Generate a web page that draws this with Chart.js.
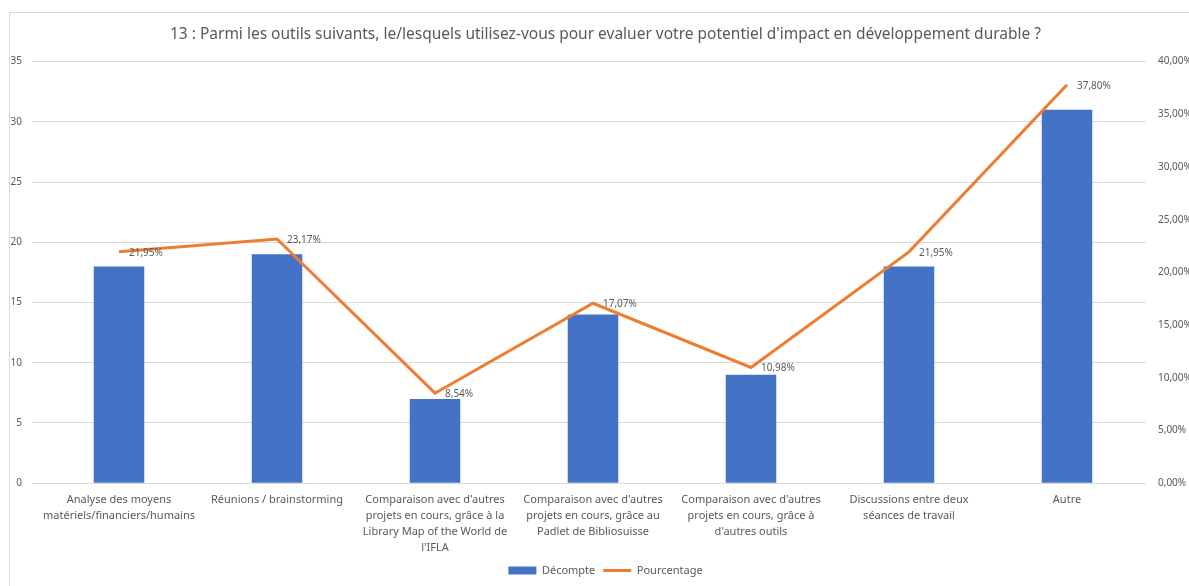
<!DOCTYPE html>
<html>
<head>
<meta charset="utf-8">
<script src="https://cdn.jsdelivr.net/npm/chart.js@4.4.1/dist/chart.umd.min.js"></script>
<style>
  html, body { margin: 0; padding: 0; background: #fff; }
  #frame { position: absolute; left: 9px; top: 12px; width: 1200px; height: 600px; border: 1px solid #d9d9d9; box-sizing: border-box; }
  #wrap { position: absolute; left: 0; top: 0; width: 1189px; height: 586px; }
</style>
</head>
<body>
<div id="frame"></div>
<div id="wrap"><canvas id="c"></canvas></div>
<script>
// données
const categories = [
  ['Analyse des moyens', 'matériels/financiers/humains'],
  ['Réunions / brainstorming'],
  ["Comparaison avec d'autres", 'projets en cours, grâce à la', 'Library Map of the World de', "l'IFLA"],
  ["Comparaison avec d'autres", 'projets en cours, grâce au', 'Padlet de Bibliosuisse'],
  ["Comparaison avec d'autres", 'projets en cours, grâce à', "d'autres outils"],
  ['Discussions entre deux', 'séances de travail'],
  ['Autre']
];
const decompte = [18, 19, 7, 14, 9, 18, 31];
const pourcentage = [0.2195, 0.2317, 0.0854, 0.1707, 0.1098, 0.2195, 0.3780];

const FONT = "'Noto Sans', sans-serif";
const TXT = '#595959';
const BLUE = '#4472C4', ORANGE = '#ED7D31';
const pct = v => (v * 100).toFixed(2).replace('.', ',') + '%';

const lineLabels = {
  id: 'lineLabels',
  afterLayout(chart) {
    // titre et légende centrés sur le cadre, pas sur le canvas
    [chart.titleBlock, chart.legend].forEach(b => { b.left += 11; b.right += 11; });
  },
  afterDatasetsDraw(chart) {
    const c = chart.ctx, meta = chart.getDatasetMeta(1);
    c.save();
    c.font = `10px ${FONT}`; c.fillStyle = TXT;
    c.textAlign = 'left'; c.textBaseline = 'middle';
    meta.data.forEach((p, i) => c.fillText(pct(pourcentage[i]), p.x + 10, p.y + 1));
    c.restore();
  }
};

new Chart(document.getElementById('c'), {
  data: {
    labels: categories,
    datasets: [
      { type: 'bar', label: 'Décompte', data: decompte, backgroundColor: BLUE, yAxisID: 'y',
        barPercentage: 0.32, categoryPercentage: 1, order: 2 },
      { type: 'line', label: 'Pourcentage', data: pourcentage, borderColor: ORANGE, backgroundColor: ORANGE,
        borderWidth: 3, pointRadius: 0, tension: 0, yAxisID: 'y1', order: 1 }
    ]
  },
  options: {
    responsive: true, maintainAspectRatio: false, animation: false,
    layout: { padding: 0 },
    scales: {
      x: { grid: { display: false }, border: { display: false },
           ticks: { color: TXT, font: { family: FONT, size: 11, lineHeight: 1.45 }, maxRotation: 0, autoSkip: false, padding: 1 } },
      y: { position: 'left', min: 0, max: 35, ticks: { stepSize: 5, color: TXT, font: { family: FONT, size: 10 }, padding: 10 },
           grid: { color: '#d9d9d9' }, border: { display: false },
           afterFit(s) { s.width = 40; } },
      y1: { position: 'right', min: 0, max: 0.4, grid: { display: false }, border: { display: false },
            ticks: { stepSize: 0.05, color: TXT, font: { family: FONT, size: 10 }, padding: 4, callback: v => pct(v) },
            afterFit(s) { s.width = 43; } }
    },
    plugins: {
      title: { display: true, text: "13 : Parmi les outils suivants, le/lesquels utilisez-vous pour evaluer votre potentiel d'impact en développement durable ?",
               color: TXT, font: { family: FONT, size: 15.5, weight: 'normal' }, padding: { top: 25, bottom: 18 } },
      legend: { position: 'bottom', labels: { color: TXT, font: { family: FONT, size: 11 }, usePointStyle: true,
                pointStyleWidth: 28, boxHeight: 8, padding: 8,
                generateLabels(chart) {
                  const items = Chart.defaults.plugins.legend.labels.generateLabels(chart)
                    .sort((a, b) => a.datasetIndex - b.datasetIndex);
                  items[0].pointStyle = 'rect'; items[0].lineWidth = 0;
                  items[1].pointStyle = 'line'; items[1].lineWidth = 3; items[1].strokeStyle = ORANGE;
                  return items;
                } } },
      tooltip: { enabled: false }
    }
  },
  plugins: [lineLabels]
});
</script>
</body>
</html>
